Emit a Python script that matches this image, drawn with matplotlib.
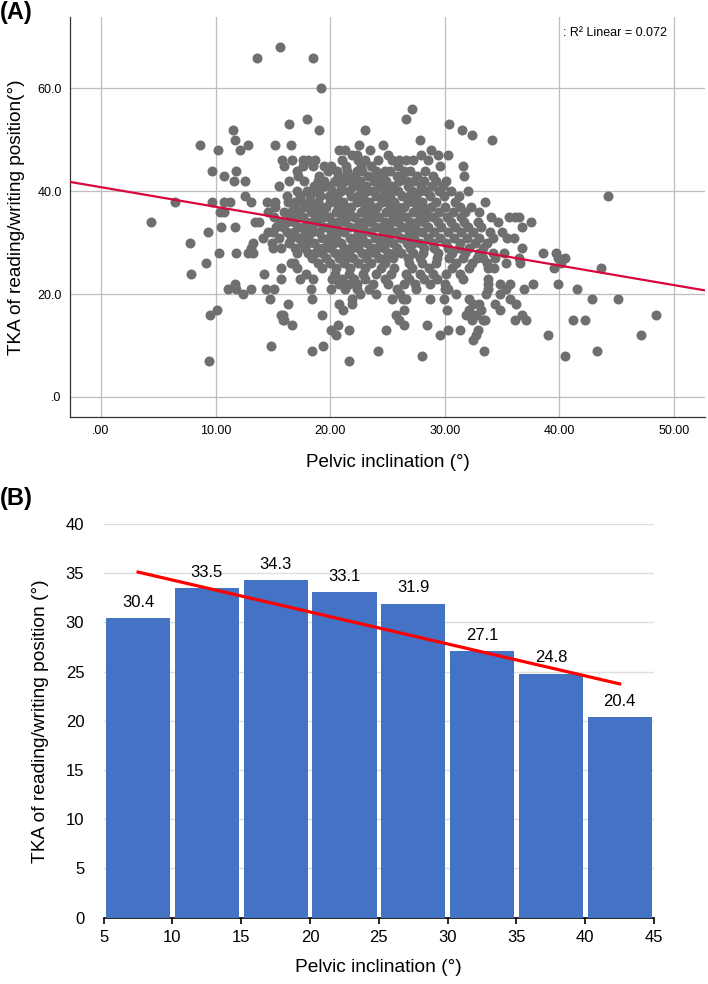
import numpy as np
import matplotlib
matplotlib.use("Agg")
from matplotlib import pyplot as plt

plt.rcParams['font.family'] = ['Liberation Sans', 'DejaVu Sans']

# (A) scatter: pelvic inclination values, grouped by TKA (whole degrees)
pelvic_by_tka = {
    68: [15.6],
    66: [13.6, 18.5],
    60: [19.2],
    56: [27.1],
    54: [18.0, 26.6],
    53: [16.4, 30.4],
    52: [11.5, 19.0, 23.0, 31.5],
    51: [32.4],
    50: [11.7, 27.8, 34.1],
    49: [8.6, 12.8, 15.2, 16.6, 22.5, 24.6],
    48: [10.2, 12.1, 20.8, 21.3, 23.5, 28.8],
    47: [21.9, 22.3, 25.0, 27.9, 29.4, 30.3],
    46: [15.8, 16.7, 17.6, 18.1, 18.7, 21.0, 22.4, 23.0, 24.2, 25.35, 26.0, 26.65, 27.2, 28.5],
    45: [16.0, 17.6, 18.5, 19.5, 20.1, 21.4, 22.7, 23.6, 25.9, 29.6, 31.6],
    44: [9.65, 11.8, 17.1, 19.8, 20.6, 21.5, 22.3, 22.8, 24.0, 24.8, 25.2, 26.4, 27.0, 28.3],
    43: [10.75, 17.2, 19.0, 20.7, 21.4, 22.2, 23.3, 23.9, 24.6, 25.8, 26.3, 27.6, 29.0, 31.7],
    42: [11.6, 12.6, 16.4, 17.7, 18.9, 19.5, 20.4, 21.3, 21.9, 22.6, 23.8, 24.4, 24.9, 26.0,
         26.7, 27.3, 28.2, 29.2, 30.1],
    41: [15.5, 18.6, 19.5, 20.0, 20.9, 22.0, 22.6, 23.1, 24.3, 25.0, 25.5, 26.8, 27.9, 28.9, 29.8],
    40: [17.1, 18.0, 18.6, 19.0, 20.2, 20.9, 21.6, 22.7, 23.2, 23.7, 24.7, 25.3, 25.9, 27.1,
         27.8, 28.4, 29.5, 30.5, 32.0],
    39: [12.55, 16.2, 17.4, 18.2, 19.1, 19.9, 20.6, 21.8, 22.4, 22.9, 24.0, 24.6, 25.2, 26.3,
         26.9, 27.5, 28.7, 29.9, 31.2, 44.2],
    38: [6.45, 9.65, 10.7, 11.25, 13.1, 14.5, 15.2, 16.3, 16.9, 17.5, 18.2, 18.9, 20.0, 20.5,
         21.1, 22.3, 22.8, 23.4, 24.5, 25.0, 25.6, 26.8, 27.3, 28.0, 29.2, 30.9, 33.5],
    37: [15.2, 16.8, 17.7, 18.5, 19.2, 19.6, 20.7, 21.3, 21.8, 23.0, 23.5, 24.1, 25.2, 25.9,
         26.4, 27.6, 28.1, 28.8, 30.0, 31.3, 32.3],
    36: [10.4, 10.7, 14.6, 16.0, 16.6, 17.2, 18.3, 18.8, 19.4, 20.5, 21.0, 21.6, 22.7, 23.3,
         23.8, 24.9, 25.4, 26.1, 27.2, 27.9, 28.4, 29.5, 30.7, 31.8, 33.0],
    35: [15.1, 16.4, 17.0, 17.6, 18.8, 19.4, 19.9, 21.0, 21.5, 22.1, 23.2, 23.8, 24.3, 25.5,
         26.0, 26.6, 27.8, 28.4, 29.0, 30.2, 31.4, 34.0, 35.6, 36.15, 36.5],
    34: [4.4, 13.4, 13.8, 15.6, 16.2, 16.8, 17.9, 18.4, 19.0, 20.2, 20.7, 21.3, 22.5, 23.0,
         23.6, 24.8, 25.3, 25.9, 27.0, 27.6, 28.2, 29.4, 30.5, 31.7, 32.9, 34.6, 37.55],
    33: [10.5, 11.7, 15.3, 15.9, 17.2, 17.8, 18.4, 19.5, 20.0, 20.6, 21.7, 22.3, 22.9, 24.0,
         24.5, 25.1, 26.3, 26.8, 27.4, 28.5, 29.7, 30.9, 32.0, 33.2, 36.7],
    32: [9.35, 14.6, 15.0, 16.2, 16.8, 17.8, 18.4, 19.0, 20.1, 20.6, 21.2, 22.4, 22.9, 23.5,
         24.6, 25.2, 25.7, 26.9, 27.4, 28.0, 29.1, 30.3, 31.4, 32.45, 33.9, 35.0],
    31: [14.1, 15.5, 16.6, 17.3, 18.1, 19.3, 19.9, 20.5, 21.7, 22.2, 22.8, 23.9, 24.5, 25.0,
         26.2, 26.8, 27.3, 28.5, 29.6, 30.8, 31.9, 33.0, 34.2, 35.4, 36.0],
    30: [7.8, 13.3, 14.9, 16.4, 17.5, 18.1, 18.6, 19.8, 20.3, 20.9, 22.0, 22.6, 23.2, 24.4,
         24.9, 25.5, 26.7, 27.2, 27.8, 29.0, 30.1, 31.3, 32.6, 33.7],
    29: [13.1, 15.0, 15.75, 16.9, 17.8, 18.9, 19.5, 20.0, 21.2, 21.8, 22.4, 23.6, 24.1, 24.7,
         25.8, 27.0, 28.2, 29.1, 30.3, 31.2, 32.1, 33.3, 36.75],
    28: [10.3, 11.8, 12.85, 13.3, 17.1, 18.1, 18.7, 19.3, 20.4, 21.0, 21.6, 22.8, 23.3, 23.9,
         25.0, 25.6, 26.2, 27.2, 28.1, 29.4, 30.6, 31.8, 33.0, 34.2, 35.2, 38.6, 39.7],
    27: [18.4, 19.6, 20.8, 21.4, 22.0, 23.1, 24.3, 24.9, 25.5, 26.8, 27.8, 29.3, 30.4, 31.6,
         32.8, 33.3, 34.4, 36.5, 39.85, 40.5],
    26: [9.15, 16.6, 16.8, 18.9, 20.0, 21.2, 22.4, 23.6, 24.8, 26.9, 28.0, 29.2, 31.0, 32.4,
         33.7, 35.3, 36.6, 40.1],
    25: [15.75, 17.1, 19.3, 20.5, 21.7, 23.0, 24.4, 25.6, 27.1, 28.6, 30.6, 32.1, 33.8, 34.3,
         39.5, 43.6],
    24: [7.9, 14.2, 17.9, 20.4, 21.6, 22.9, 24.0, 25.3, 26.65, 27.8, 29.0, 30.1, 31.3],
    23: [15.7, 17.4, 18.5, 20.2, 21.0, 22.1, 23.0, 24.8, 26.9, 28.2, 29.3, 31.6, 33.8],
    22: [11.7, 20.8, 21.6, 22.3, 23.7, 25.0, 26.4, 27.4, 28.7, 30.0, 33.8, 34.85, 35.65, 37.7, 39.9],
    21: [11.1, 11.8, 13.1, 14.4, 15.1, 18.3, 20.05, 21.3, 22.3, 23.4, 25.8, 27.5, 30.0, 30.3,
         33.8, 35.3, 36.9, 41.5],
    20: [12.35, 22.6, 24.0, 26.1, 31.0, 33.6, 34.8],
    19: [14.75, 18.45, 21.9, 25.35, 26.35, 26.65, 28.7, 29.9, 32.1, 35.7, 42.8, 45.1],
    18: [16.3, 20.8, 21.9, 32.5, 32.95, 34.4, 36.2],
    17: [10.1, 21.1, 26.45, 30.2, 32.1, 33.15, 34.8],
    16: [9.5, 15.75, 15.85, 19.3, 25.7, 31.85, 32.75, 36.7, 48.4],
    15: [15.9, 16.0, 26.0, 32.35, 33.3, 33.5, 36.1, 37.1, 41.2, 42.2],
    14: [16.7, 20.7, 26.4, 28.45],
    13: [20.1, 21.6, 24.9, 30.25, 31.35, 32.9],
    12: [20.55, 29.55, 32.7, 39.0, 47.1],
    11: [32.5],
    10: [14.8, 19.4],
    9: [18.45, 24.2, 33.45, 43.3],
    8: [28.0, 40.45],
    7: [9.45, 21.6],
}
fit_intercept = 40.8
fit_slope = -0.381
r2_label = ': R² Linear = 0.072'
xticks_a = [0, 10, 20, 30, 40, 50]
xticklabels_a = ['.00', '10.00', '20.00', '30.00', '40.00', '50.00']
yticks_a = [0, 20, 40, 60]
yticklabels_a = ['.0', '20.0', '40.0', '60.0']

# (B) mean TKA per 5 degree bin of pelvic inclination
bin_centers = [7.5, 12.5, 17.5, 22.5, 27.5, 32.5, 37.5, 42.5]
tka_means = [30.4, 33.5, 34.3, 33.1, 31.9, 27.1, 24.8, 20.4]

pelvic = []
tka = []
for t, xs in pelvic_by_tka.items():
    pelvic += xs
    tka += [t] * len(xs)
pelvic = np.array(pelvic)
tka = np.array(tka)

W, H = 708, 984
fig = plt.figure(figsize=(W / 100, H / 100), dpi=100)

# ---- panel A
axA = fig.add_axes([70 / W, (H - 417) / H, 635 / W, 400 / H])
axA.scatter(pelvic, tka, s=52, color='#6f6f6f', linewidths=0, zorder=3)
xl = np.array([-2.7, 52.7])
axA.plot(xl, fit_intercept + fit_slope * xl, color='#d7073c', lw=1.6, zorder=4)
axA.set_xlim(-2.7, 52.7)
axA.set_ylim(-3.9, 73.9)
axA.set_xticks(xticks_a)
axA.set_xticklabels(xticklabels_a)
axA.set_yticks(yticks_a)
axA.set_yticklabels(yticklabels_a)
axA.tick_params(length=0, labelsize=9, pad=6)
axA.grid(True, color='#bebebe', lw=0.9, zorder=0)
axA.set_axisbelow(True)
for s in ['top', 'right']:
    axA.spines[s].set_visible(False)
for s in ['left', 'bottom']:
    axA.spines[s].set_color('#333333')
    axA.spines[s].set_linewidth(0.9)
axA.set_xlabel('Pelvic inclination (°)', fontsize=13.5, labelpad=12)
axA.set_ylabel('TKA of reading/writing position(°)', fontsize=13.7, labelpad=9)
axA.text(667 / W, (H - 33) / H, r2_label, transform=fig.transFigure,
         ha='right', va='center', fontsize=9)
fig.text(0, (H - 12) / H, '(A)', fontsize=17, fontweight='bold', va='center', ha='left')

# ---- panel B
axB = fig.add_axes([103.7 / W, (H - 917.7) / H, 550.3 / W, 393.7 / H])
axB.bar(bin_centers, tka_means, width=4.66, color='#4472c4', zorder=3)
for xc, v in zip(bin_centers, tka_means):
    axB.annotate(f'{v:.1f}', (xc, v), xytext=(0, 6), textcoords='offset points',
                 ha='center', va='bottom', fontsize=12)
k, b = np.polyfit(bin_centers, tka_means, 1)
xb = np.array([bin_centers[0], bin_centers[-1]])
axB.plot(xb, b + k * xb, color='#ff0000', lw=2.3, zorder=4)
axB.set_xlim(5, 45)
axB.set_ylim(0, 40)
axB.set_xticks(range(5, 46, 5))
axB.set_yticks(range(0, 41, 5))
axB.grid(True, axis='y', color='#dedede', lw=1, zorder=0)
axB.set_axisbelow(True)
for s in ['top', 'right', 'left']:
    axB.spines[s].set_visible(False)
axB.spines['bottom'].set_color('black')
axB.spines['bottom'].set_linewidth(1.2)
axB.tick_params(axis='x', length=4, width=1.2, labelsize=12, pad=5)
axB.tick_params(axis='y', length=0, labelsize=12, pad=14)
axB.set_xlabel('Pelvic inclination (°)', fontsize=13.8, labelpad=10)
axB.set_ylabel('TKA of reading/writing position (°)', fontsize=13.8, labelpad=12)
fig.text(0, (H - 499) / H, '(B)', fontsize=17, fontweight='bold', va='center', ha='left')

fig.savefig('out.png', dpi=100)
